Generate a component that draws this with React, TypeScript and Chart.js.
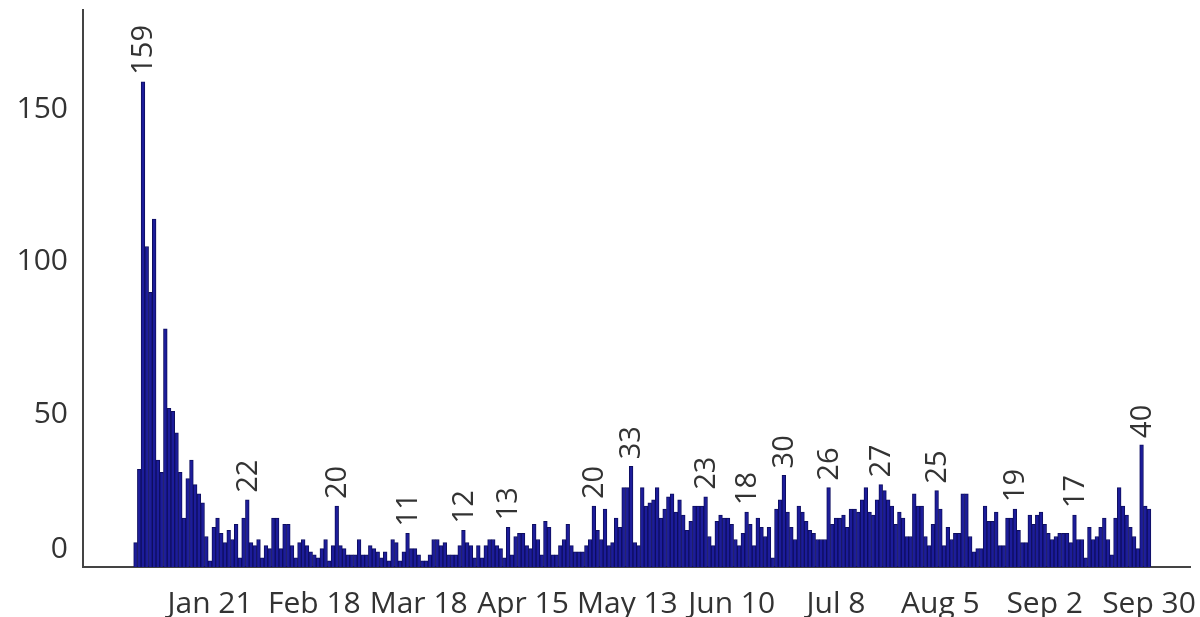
import React, { useEffect, useRef } from "react";
import { Chart, registerables } from "chart.js";

Chart.register(...registerables);

// Daily counts, Jan 1 .. Sep 30 (day index 0..272)
const dailyCounts: number[] = [
  8, 32, 159, 105, 90, 114, 35, 31, 78, 52, 51, 44, 31, 16, 29, 35, 27, 24, 21, 10,
  2, 13, 16, 11, 8, 12, 9, 14, 3, 16, 22, 8, 7, 9, 3, 7, 6, 16, 16, 6,
  14, 14, 7, 3, 8, 9, 7, 5, 4, 3, 6, 9, 2, 7, 20, 7, 6, 4, 4, 4,
  9, 4, 4, 7, 6, 5, 3, 5, 2, 9, 8, 2, 5, 11, 6, 6, 4, 2, 2, 4,
  9, 9, 7, 8, 4, 4, 4, 7, 12, 8, 7, 3, 7, 3, 7, 9, 9, 7, 6, 3,
  13, 4, 10, 11, 11, 7, 6, 14, 9, 4, 15, 13, 4, 4, 7, 9, 14, 7, 5, 5,
  5, 7, 9, 20, 12, 9, 19, 7, 8, 16, 13, 26, 26, 33, 8, 7, 26, 20, 21, 22,
  26, 16, 19, 23, 24, 18, 22, 17, 12, 15, 20, 20, 20, 23, 10, 7, 15, 17, 16, 16,
  14, 9, 7, 11, 18, 14, 7, 16, 13, 10, 13, 3, 19, 22, 30, 18, 13, 9, 20, 18,
  15, 12, 11, 9, 9, 9, 26, 14, 16, 16, 17, 13, 19, 19, 18, 22, 26, 18, 17, 22,
  27, 25, 22, 20, 14, 18, 16, 10, 10, 24, 20, 20, 10, 7, 14, 25, 19, 7, 13, 9,
  11, 11, 24, 24, 10, 5, 6, 6, 20, 15, 15, 18, 7, 7, 16, 16, 19, 12, 8, 8,
  17, 14, 17, 18, 14, 11, 9, 10, 11, 11, 11, 8, 17, 9, 9, 3, 13, 9, 10, 13,
  16, 9, 4, 16, 26, 20, 17, 13, 10, 6, 40, 20, 19,
];

// Days whose bars carry a value label
const labelledDays: number[] = [2, 30, 54, 73, 88, 100, 123, 133, 153, 164, 174, 186, 200, 215, 236, 252, 270];

// X-axis ticks (day index) and their labels
const xTickDays: number[] = [20, 48, 76, 104, 132, 160, 188, 216, 244, 272];
const xTickLabels: string[] = ["Jan 21", "Feb 18", "Mar 18", "Apr 15", "May 13", "Jun 10", "Jul 8", "Aug 5", "Sep 2", "Sep 30"];

// Y-axis ticks
const yTickValues: number[] = [0, 50, 100, 150];

const FONT = '"Open Sans", "Noto Sans", sans-serif';

const textPlugin = {
  id: "customText",
  afterDraw(chart: any) {
    const ctx = chart.ctx;
    const xs = chart.scales.x;
    const ys = chart.scales.y;
    ctx.save();
    ctx.fillStyle = "#333333";
    // y tick labels
    ctx.font = `30px ${FONT}`;
    ctx.textAlign = "right";
    ctx.textBaseline = "middle";
    yTickValues.forEach((v) => {
      let y = ys.getPixelForValue(v);
      if (v === 0) y -= 18;
      ctx.fillText(String(v), 68, y);
    });
    // x tick labels
    ctx.textAlign = "center";
    ctx.textBaseline = "top";
    xTickDays.forEach((d, i) => {
      ctx.fillText(xTickLabels[i], xs.getPixelForValue(d), 589);
    });
    // bar value labels (rotated)
    ctx.font = `29px ${FONT}`;
    labelledDays.forEach((d) => {
      const v = dailyCounts[d];
      const x = xs.getPixelForValue(d);
      const y = ys.getPixelForValue(v) - 7;
      ctx.save();
      ctx.translate(x, y);
      ctx.rotate(-Math.PI / 2);
      ctx.textAlign = "left";
      ctx.textBaseline = "middle";
      ctx.fillText(String(v), 0, 1);
      ctx.restore();
    });
    ctx.restore();
  },
};

export default function App() {
  const canvasRef = useRef<HTMLCanvasElement | null>(null);

  useEffect(() => {
    document.body.style.margin = "0";
    const canvas = canvasRef.current;
    if (!canvas) return;
    const chart = new Chart(canvas, {
      type: "bar",
      data: {
        datasets: [
          {
            data: dailyCounts.map((v, i) => ({ x: i, y: v })),
            backgroundColor: "#1c1c9a",
            borderColor: "#0e0e60",
            borderWidth: 1,
            barPercentage: 1,
            categoryPercentage: 1,
          },
        ],
      },
      options: {
        animation: false,
        responsive: false,
        devicePixelRatio: 1,
        layout: { padding: { left: 83, right: 10, top: 10, bottom: 50 } },
        plugins: { legend: { display: false }, tooltip: { enabled: false } },
        scales: {
          x: {
            type: "linear",
            offset: false,
            min: -14.1,
            max: 283.0,
            grid: { display: false, drawTicks: false },
            ticks: { display: false },
            border: { display: true, color: "#444444", width: 2 },
          },
          y: {
            min: 0,
            max: 182.5,
            grid: { display: false, drawTicks: false },
            ticks: { display: false },
            border: { display: true, color: "#444444", width: 2 },
          },
        },
      },
      plugins: [textPlugin],
    });
    return () => chart.destroy();
  }, []);

  return (
    <div style={{ position: "absolute", left: 0, top: 0, width: 1200, height: 617, background: "#ffffff" }}>
      <canvas ref={canvasRef} width={1200} height={617} />
    </div>
  );
}
